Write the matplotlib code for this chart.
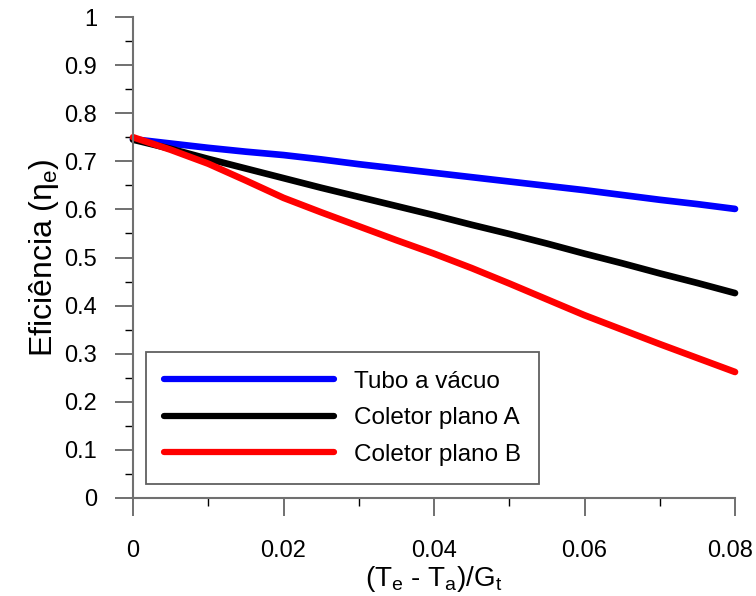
import numpy as np
import matplotlib.pyplot as plt
from matplotlib.ticker import MultipleLocator
from matplotlib.transforms import ScaledTranslation

plt.rcParams['font.family'] = ['Liberation Sans', 'DejaVu Sans']
plt.rcParams['mathtext.fontset'] = 'custom'
plt.rcParams['mathtext.rm'] = 'Liberation Sans'
plt.rcParams['mathtext.it'] = 'Liberation Sans'

# ---- data ----
x = [0.000, 0.005, 0.010, 0.015, 0.020, 0.025, 0.030, 0.035, 0.040,
     0.045, 0.050, 0.055, 0.060, 0.065, 0.070, 0.075, 0.080]
tubo_vacuo = [0.746, 0.737, 0.728, 0.720, 0.713, 0.704, 0.694, 0.685, 0.676,
              0.667, 0.658, 0.649, 0.640, 0.630, 0.620, 0.611, 0.601]
coletor_a = [0.745, 0.726, 0.705, 0.685, 0.665, 0.645, 0.626, 0.607, 0.588,
             0.568, 0.549, 0.529, 0.508, 0.488, 0.467, 0.447, 0.426]
coletor_b = [0.750, 0.724, 0.695, 0.660, 0.624, 0.594, 0.565, 0.536, 0.508,
             0.478, 0.446, 0.413, 0.380, 0.350, 0.320, 0.291, 0.262]
labels = ["Tubo a vácuo", "Coletor plano A", "Coletor plano B"]
colors = ["#0000FF", "#000000", "#FF0000"]

xticks = [0, 0.02, 0.04, 0.06, 0.08]
xticklabels = ["0", "0.02", "0.04", "0.06", "0.08"]
yticks = [0, 0.1, 0.2, 0.3, 0.4, 0.5, 0.6, 0.7, 0.8, 0.9, 1.0]
yticklabels = ["0", "0.1", "0.2", "0.3", "0.4", "0.5", "0.6", "0.7", "0.8", "0.9", "1"]

fig = plt.figure(figsize=(7.56, 5.96), dpi=100)
ax = fig.add_axes([133/756, 98/596, 602/756, 481/596])

for ys, lab, c in zip([tubo_vacuo, coletor_a, coletor_b], labels, colors):
    ax.plot(x, ys, color=c, lw=4.8, label=lab, solid_capstyle='round', clip_on=False)

ax.set_xlim(0, 0.08)
ax.set_ylim(0, 1)
ax.set_xticks(xticks)
ax.set_xticklabels(xticklabels)
ax.set_yticks(yticks)
ax.set_yticklabels(yticklabels)
ax.xaxis.set_minor_locator(MultipleLocator(0.01))
ax.yaxis.set_minor_locator(MultipleLocator(0.05))

for s in ["top", "right"]:
    ax.spines[s].set_visible(False)
for s in ["left", "bottom"]:
    ax.spines[s].set_color("#707070")
    ax.spines[s].set_linewidth(1.5)

ax.tick_params(which='major', direction='out', length=13, width=1.4, color='#707070',
               labelsize=17)
ax.tick_params(which='minor', direction='out', length=6, width=1.0, color='black')
ax.tick_params(axis='y', which='major', pad=13)
ax.tick_params(axis='x', which='major', pad=17)

# last x label sits a bit left of its tick in the reference
last = ax.get_xticklabels()[-1]
last.set_transform(last.get_transform() + ScaledTranslation(-5/100, 0, fig.dpi_scale_trans))

ax.set_xlabel(r"(T$_\mathregular{e}$ - T$_\mathregular{a}$)/G$_\mathregular{t}$", fontsize=20, labelpad=2)
ax.set_ylabel(r"Eficiência ($\mathregular{\eta_e}$)", fontsize=23, labelpad=2)

leg = ax.legend(loc='lower left', bbox_to_anchor=(146/756, 112/596), bbox_transform=fig.transFigure,
                borderaxespad=0, fontsize=17.5, handlelength=7.0, handletextpad=0.8,
                labelspacing=0.6, borderpad=0.75, fancybox=False, framealpha=1)
leg.get_frame().set_edgecolor('#606060')
leg.get_frame().set_linewidth(1.3)
for ln in leg.get_lines():
    ln.set_linewidth(4.5)
    ln.set_solid_capstyle('round')

fig.savefig("out.png", dpi=100)
